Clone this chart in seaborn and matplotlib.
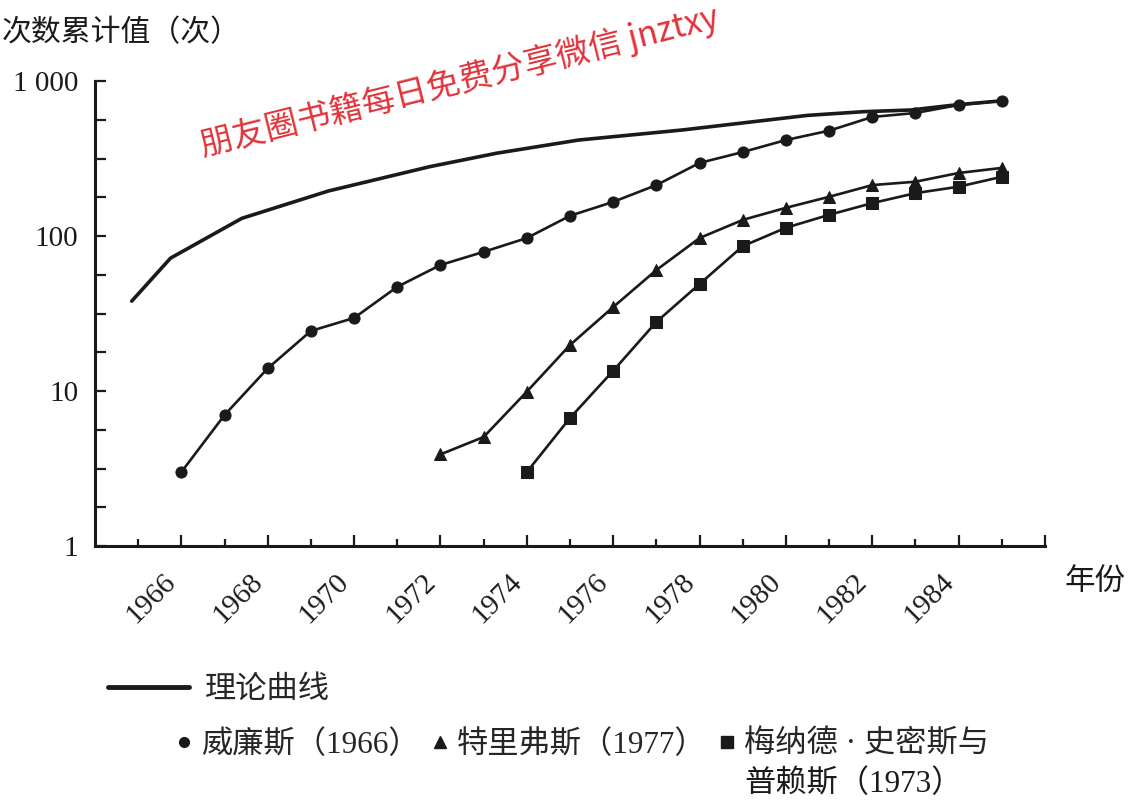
import numpy as np
import pandas as pd
import matplotlib
matplotlib.use('Agg')
import matplotlib.pyplot as plt
import seaborn as sns
from matplotlib.lines import Line2D
from matplotlib.ticker import FixedLocator, NullFormatter

# 데이터
theory_years = [1964.85, 1965.75, 1967.4, 1969.4, 1971.75, 1973.3, 1975.2, 1977.6, 1980.5, 1981.8, 1982.9, 1983.9, 1985]
theory_vals = [38, 72, 130, 195, 280, 342, 416, 483, 600, 634, 650, 700, 745]

willems_years = list(range(1966, 1986))
willems_vals = [3, 7, 14, 24.4, 29.6, 47, 65, 79, 97, 135, 166, 213, 296, 348, 416, 478, 586, 622, 700, 746]

trivers_years = list(range(1972, 1986))
trivers_vals = [3.9, 5.05, 9.9, 19.8, 34.8, 60.3, 97, 127, 152, 179, 213, 224, 255, 275]

maynard_years = list(range(1974, 1986))
maynard_vals = [3.0, 6.7, 13.5, 27.9, 49, 86, 113, 137, 163, 189, 208, 241]

labels = ['理论曲线', '威廉斯（1966）', '特里弗斯（1977）', '梅纳德 · 史密斯与', '普赖斯（1973）']
ylabel = '次数累计值（次）'
xlabel = '年份'
watermark = '朋友圈书籍每日免费分享微信 jnztxy'
year_ticks = list(range(1966, 1987, 2))
year_labels = [str(y) for y in range(1966, 1985, 2)] + ['']
y_ticks = [1, 10, 100, 1000]
y_labels = ['1', '10', '100', '1 000']

sns.set_theme(style='ticks')
plt.rcParams['font.family'] = ['Liberation Serif', 'Noto Sans CJK SC', 'DejaVu Sans']
CJK = ['Liberation Serif', 'Noto Sans CJK SC']
ink = '#1a1a1a'

fig = plt.figure(figsize=(11.35, 8.01), dpi=100)
ax = fig.add_axes([95 / 1135, 255 / 801, 950 / 1135, 465 / 801])
ax.set_yscale('log')

sns.lineplot(x=theory_years, y=theory_vals, ax=ax, color=ink, linewidth=2.6, sort=False)
sns.lineplot(x=willems_years, y=willems_vals, ax=ax, color=ink, linewidth=1.9,
             marker='o', markersize=8, markeredgecolor=ink, sort=False)
sns.lineplot(x=trivers_years, y=trivers_vals, ax=ax, color=ink, linewidth=1.9,
             marker='^', markersize=9, markeredgecolor=ink, sort=False)
sns.lineplot(x=maynard_years, y=maynard_vals, ax=ax, color=ink, linewidth=1.9,
             marker='s', markersize=9, markeredgecolor=ink, sort=False)

ax.set_xlim(1964, 1986)
ax.set_ylim(1, 1000)

# 축 스타일
sns.despine(ax=ax)
for side in ['left', 'bottom']:
    ax.spines[side].set_linewidth(2.2)
    ax.spines[side].set_color(ink)

ax.set_xticks(year_ticks)
ax.set_xticklabels(year_labels, rotation=45, ha='right', fontsize=21)
ax.xaxis.set_minor_locator(FixedLocator(list(range(1965, 1986, 2))))
ax.tick_params(axis='x', which='major', direction='in', length=8, width=1.6, pad=16, colors=ink)
ax.tick_params(axis='x', which='minor', direction='in', length=5, width=1.6, colors=ink)

ax.yaxis.set_major_locator(FixedLocator(y_ticks))
ax.set_yticklabels(y_labels, fontsize=21)
ax.yaxis.set_minor_locator(FixedLocator([10 ** (k / 4) for k in range(13) if k % 4]))
ax.yaxis.set_minor_formatter(NullFormatter())
ax.tick_params(axis='y', which='both', direction='in', length=8, width=1.6, pad=12, colors=ink)
ax.set_xlabel('')
ax.set_ylabel('')

fig.text(2 / 1135, 1 - 33 / 801, ylabel, fontsize=21.5, family=CJK, ha='left', va='center', color=ink)
fig.text(1095 / 1135, 1 - 582 / 801, xlabel, fontsize=22, family=CJK, ha='center', va='center', color=ink)

# 워터마크
fig.text(459 / 1135, 1 - 82 / 801, watermark, fontsize=24, family=['Noto Sans CJK SC'],
         color='#e2323a', rotation=14, rotation_mode='anchor', ha='center', va='center')

# 범례
h_line = [Line2D([], [], color=ink, linewidth=3.5)]
leg1 = fig.legend(h_line, labels[:1], loc='center left', bbox_to_anchor=(108 / 1135, 1 - 690 / 801),
                  frameon=False, handlelength=2.6, handletextpad=0.5, borderpad=0, borderaxespad=0,
                  prop={'family': CJK, 'size': 22.5})
h_mark = [Line2D([], [], color=ink, linestyle='none', marker=m, markersize=s)
          for m, s in [('o', 7), ('^', 8), ('s', 8)]]
leg2 = fig.legend(h_mark, labels[1:4], loc='center left', bbox_to_anchor=(176 / 1135, 1 - 745 / 801),
                  frameon=False, ncol=3, handlelength=0.5, handletextpad=0.3, columnspacing=0.4,
                  borderpad=0, borderaxespad=0, prop={'family': CJK, 'size': 22.5})

fig.canvas.draw()
bb = leg2.get_texts()[2].get_window_extent()
fig.text(bb.x0 / fig.bbox.width, (bb.y0 - 24) / fig.bbox.height, labels[4],
         fontsize=22.5, family=CJK, ha='left', va='center', color=ink)

fig.savefig('out.png', dpi=100)
